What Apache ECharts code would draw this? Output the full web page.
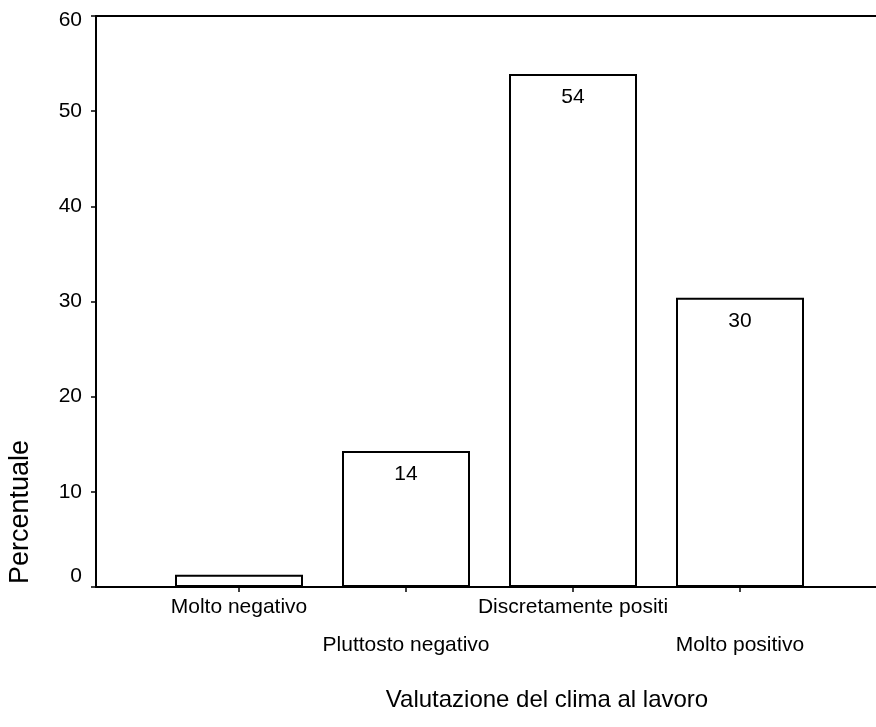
<!DOCTYPE html>
<html>
<head>
<meta charset="utf-8">
<script src="https://cdn.jsdelivr.net/npm/echarts@6/dist/echarts.min.js"></script>
<style>
html,body{margin:0;padding:0;background:#fff;}
#c{width:876px;height:727px;}
</style>
</head>
<body>
<div id="c"></div>
<script>
var categories = ['Molto negativo', 'Pluttosto negativo', 'Discretamente positi', 'Molto positivo'];
var values = [1.3, 14.3, 53.9, 30.4];
var barLabels = ['', '14', '54', '30'];
var yTicks = [0, 10, 20, 30, 40, 50, 60];
var yTitle = 'Percentuale';
var xTitle = 'Valutazione del clima al lavoro';

var FONT = '"Liberation Sans", Arial, sans-serif';
var chart = echarts.init(document.getElementById('c'));
var gridTop = 16, gridBottom = 140;
var FS = 21;
chart.setOption({
  animation: false,
  backgroundColor: '#fff',
  grid: [
    {left: 155.5, right: 52.5, top: gridTop, bottom: gridBottom},
    {left: 96, right: 0, top: gridTop, bottom: gridBottom}
  ],
  xAxis: [
    {
      type: 'category', gridIndex: 0, data: categories,
      boundaryGap: true,
      axisLine: {show: false},
      axisTick: {show: true, alignWithLabel: true, length: 5, lineStyle: {color: '#000', width: 1.5}},
      axisLabel: {
        color: '#000', fontFamily: FONT, fontSize: FS, interval: 0, margin: 1,
        lineHeight: 38,
        formatter: function (v, i) { return i % 2 ? '\n' + v : v; }
      }
    },
    {
      type: 'value', gridIndex: 1, min: 0, max: 1, position: 'bottom',
      axisLine: {show: true, lineStyle: {color: '#000', width: 2}},
      axisTick: {show: false}, axisLabel: {show: false}, splitLine: {show: false}
    },
    {
      type: 'value', gridIndex: 1, min: 0, max: 1, position: 'top',
      axisLine: {show: true, lineStyle: {color: '#000', width: 2}},
      axisTick: {show: false}, axisLabel: {show: false}, splitLine: {show: false}
    }
  ],
  yAxis: [
    {type: 'value', gridIndex: 0, min: 0, max: 60, show: false},
    {
      type: 'value', gridIndex: 1, min: yTicks[0], max: yTicks[yTicks.length - 1], interval: 10,
      axisLine: {show: true, lineStyle: {color: '#000', width: 2}},
      axisTick: {show: true, length: 5, lineStyle: {color: '#000', width: 1.5}},
      axisLabel: {
        color: '#000', fontFamily: FONT, fontSize: FS, margin: 14,
        formatter: function (v) {
          if (v === yTicks[0]) return '{lo|' + v + '}';
          if (v === yTicks[yTicks.length - 1]) return '{hi|' + v + '}';
          return String(v);
        },
        rich: {
          lo: {fontFamily: FONT, fontSize: FS, color: '#000', padding: [0, 0, 22, 0]},
          hi: {fontFamily: FONT, fontSize: FS, color: '#000', padding: [9, 0, 0, 0]}
        }
      },
      splitLine: {show: false}
    }
  ],
  series: [{
    type: 'bar', xAxisIndex: 0, yAxisIndex: 0,
    barWidth: 128,
    data: values.map(function (v, i) {
      return {value: v, label: {show: barLabels[i] !== ''}};
    }),
    itemStyle: {color: '#fff', borderColor: '#000', borderWidth: 2},
    label: {
      show: true, position: 'insideTop', distance: 13,
      color: '#000', fontFamily: FONT, fontSize: FS,
      formatter: function (p) { return barLabels[p.dataIndex]; }
    }
  }],
  graphic: [
    {
      type: 'text', x: 21, y: 512, rotation: Math.PI / 2,
      style: {text: yTitle, fill: '#000', font: '27px ' + FONT, textAlign: 'center', textVerticalAlign: 'middle'}
    },
    {
      type: 'text', x: 547, y: 700,
      style: {text: xTitle, fill: '#000', font: '24px ' + FONT, textAlign: 'center', textVerticalAlign: 'middle'}
    }
  ]
});
</script>
</body>
</html>
